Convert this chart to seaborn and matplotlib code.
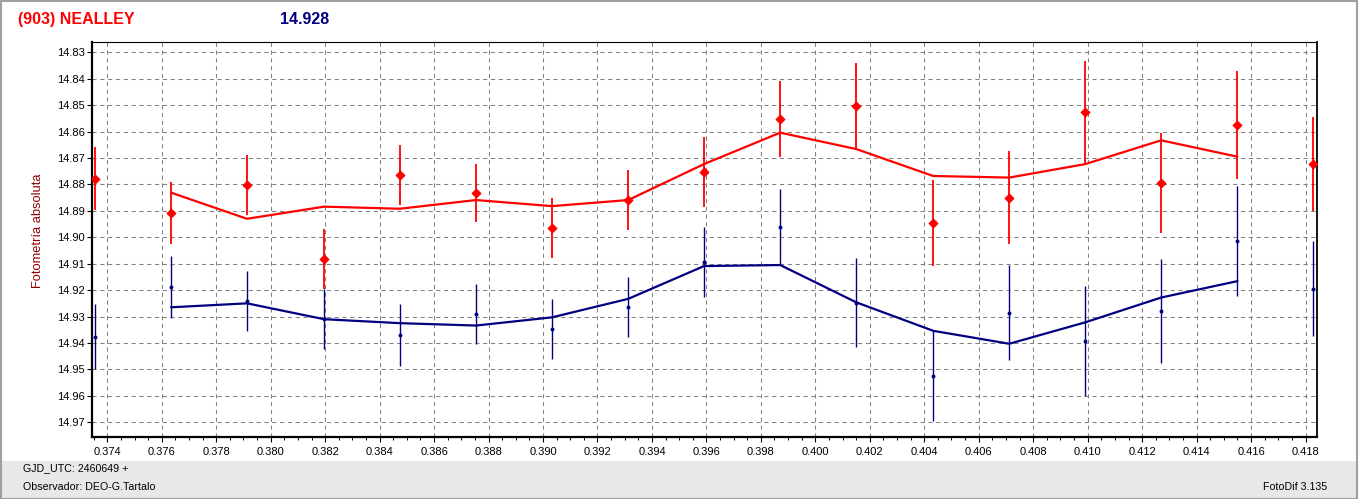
import numpy as np
import pandas as pd
import matplotlib
matplotlib.use("Agg")
import matplotlib.pyplot as plt
import seaborn as sns
from matplotlib.ticker import MultipleLocator, FormatStrFormatter
from matplotlib.patches import Rectangle

# ---------------- data ----------------
gjd = [0.37355, 0.37634, 0.37913, 0.38196, 0.38474, 0.38754, 0.39033, 0.39313, 0.39591,
       0.39871, 0.40150, 0.40433, 0.40712, 0.40991, 0.41270, 0.41550, 0.41829]
red_mag = [14.8778, 14.8908, 14.8802, 14.9082, 14.8764, 14.8832, 14.8965, 14.8859, 14.8752,
           14.8552, 14.8502, 14.8946, 14.8850, 14.8524, 14.8795, 14.8575, 14.8723]
red_err = [0.0120, 0.0116, 0.0112, 0.0112, 0.0114, 0.0111, 0.0113, 0.0115, 0.0132,
           0.0143, 0.0160, 0.0162, 0.0177, 0.0193, 0.0190, 0.0204, 0.0178]
blue_mag = [14.9376, 14.9187, 14.9241, 14.9310, 14.9370, 14.9290, 14.9346, 14.9263, 14.9093,
            14.8961, 14.9247, 14.9525, 14.9285, 14.9393, 14.9278, 14.9014, 14.9194]
blue_err = [0.0123, 0.0117, 0.0115, 0.0114, 0.0117, 0.0114, 0.0114, 0.0114, 0.0133,
            0.0144, 0.0167, 0.0170, 0.0181, 0.0207, 0.0196, 0.0207, 0.0181]
# smoothed curves (drawn from 2nd to 16th point)
line_x = gjd[1:16]
red_line = [14.8831, 14.8930, 14.8884, 14.8892, 14.8859, 14.8882, 14.8859, 14.8723,
            14.8604, 14.8666, 14.8768, 14.8774, 14.8723, 14.8633, 14.8695]
blue_line = [14.9265, 14.9250, 14.9310, 14.9325, 14.9334, 14.9303, 14.9233, 14.9109,
             14.9105, 14.9246, 14.9354, 14.9403, 14.9322, 14.9228, 14.9166]

title_name = "(903) NEALLEY"
title_value = "14.928"
ylabel = "Fotometría absoluta"
footer_left = ["GJD_UTC: 2460649 +", "Observador: DEO-G.Tartalo"]
footer_right = "FotoDif 3.135"

RED = "#FF0000"
NAVY = "#000080"

# ---------------- style ----------------
sns.set_theme(style="ticks")
plt.rcParams["font.family"] = ["Liberation Sans", "DejaVu Sans"]

W, H = 1362, 499
fig = plt.figure(figsize=(W / 100, H / 100), dpi=100)
fig.patch.set_facecolor("white")

def px(x0, y0, w, h):
    return [x0 / W, 1 - (y0 + h) / H, w / W, h / H]

# grey footer panel
fig.patches.append(Rectangle((0, 0), 1357 / W, (H - 461) / H, transform=fig.transFigure,
                             facecolor="#E8E8E8", edgecolor="none", zorder=0))
# outer frame
fig.patches.append(Rectangle((1 / W, 0), 1355.5 / W, (H - 1) / H, transform=fig.transFigure,
                             facecolor="none", edgecolor="#A0A0A0", linewidth=1.5, zorder=1))

ax = fig.add_axes(px(91.7, 42.3, 1317 - 91.7, 437.3 - 42.3))
ax.set_facecolor("white")

df_red = pd.DataFrame({"x": line_x, "y": red_line})
df_blue = pd.DataFrame({"x": line_x, "y": blue_line})
sns.lineplot(data=df_red, x="x", y="y", ax=ax, color=RED, linewidth=1.6, zorder=3)
sns.lineplot(data=df_blue, x="x", y="y", ax=ax, color=NAVY, linewidth=1.6, zorder=3)

ax.errorbar(gjd, red_mag, yerr=red_err, fmt="none", ecolor=RED, elinewidth=1.3, capsize=0, zorder=4)
ax.errorbar(gjd, blue_mag, yerr=blue_err, fmt="none", ecolor=NAVY, elinewidth=1.0, capsize=0, zorder=4)
sns.scatterplot(x=gjd, y=red_mag, ax=ax, color=RED, marker="D", s=20, linewidth=0.8,
                edgecolor=RED, zorder=5)
sns.scatterplot(x=gjd, y=blue_mag, ax=ax, color=NAVY, marker="o", s=8, linewidth=0,
                zorder=5)

ax.set_xlim(0.373427, 0.418422)
ax.set_ylim(14.9757, 14.8262)

ax.xaxis.set_major_locator(MultipleLocator(0.002))
ax.xaxis.set_minor_locator(MultipleLocator(0.0005))
ax.xaxis.set_major_formatter(FormatStrFormatter("%.3f"))
ax.yaxis.set_major_locator(MultipleLocator(0.01))
ax.yaxis.set_major_formatter(FormatStrFormatter("%.2f"))

ax.grid(True, which="major", color="#808080", linestyle=(0, (4, 3.5)), linewidth=0.75)
ax.set_axisbelow(True)

ax.tick_params(axis="both", which="major", labelsize=8, colors="black", length=3.5,
               width=0.8, direction="out")
ax.tick_params(axis="x", which="major", pad=3.5)
ax.tick_params(axis="y", which="major", pad=1.5)
ax.tick_params(axis="x", which="minor", length=2, width=0.7, direction="out", colors="black")

for side, lw in {"left": 1.6, "bottom": 1.6, "right": 1.3, "top": 0.8}.items():
    ax.spines[side].set_visible(True)
    ax.spines[side].set_linewidth(lw)
    ax.spines[side].set_color("black")

ax.set_xlabel("")
ax.set_ylabel("")
fig.text(38 / W, 1 - 231 / H, ylabel, rotation=90, ha="center", va="center",
         fontsize=9.3, color="#900000")

fig.text(18 / W, 1 - 19.5 / H, title_name, ha="left", va="center", fontsize=11.5,
         fontweight="bold", color=RED)
fig.text(280 / W, 1 - 19.5 / H, title_value, ha="left", va="center", fontsize=11.5,
         fontweight="bold", color=NAVY)

fig.text(23 / W, 1 - 468 / H, footer_left[0], ha="left", va="center", fontsize=7.7, color="black")
fig.text(23 / W, 1 - 487 / H, footer_left[1], ha="left", va="center", fontsize=7.7, color="black")
fig.text(1327 / W, 1 - 487 / H, footer_right, ha="right", va="center", fontsize=7.7, color="black")

fig.savefig("out.png", dpi=100, facecolor="white")
